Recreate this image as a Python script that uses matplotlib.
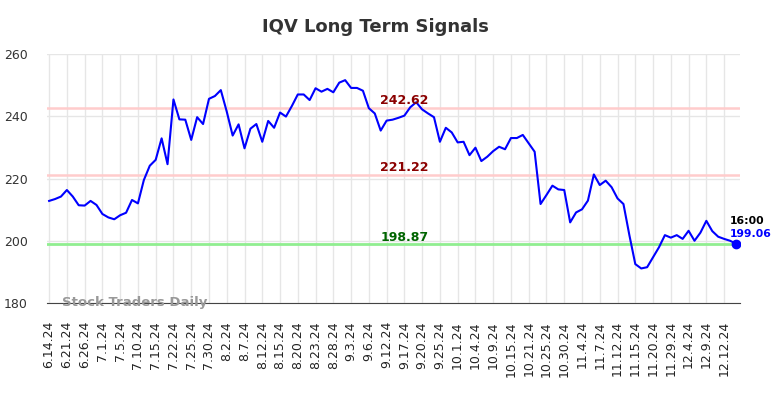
import matplotlib
matplotlib.use("Agg")
import matplotlib.pyplot as plt
import numpy as np

# closing prices, one per session shown on the chart
prices = [212.8, 213.4, 214.2, 216.3, 214.2, 211.4, 211.3, 212.8, 211.5, 208.6,
          207.5, 206.9, 208.2, 209.0, 213.1, 212.0, 219.5, 224.1, 226.0, 232.9,
          224.6, 245.4, 239.0, 238.9, 232.4, 239.7, 237.5, 245.6, 246.5, 248.4,
          241.5, 233.8, 237.4, 229.7, 236.0, 237.5, 231.8, 238.5, 236.3, 241.2,
          239.9, 243.3, 247.0, 247.0, 245.2, 249.0, 247.9, 248.8, 247.7, 250.8,
          251.6, 249.1, 249.1, 248.2, 242.6, 240.9, 235.4, 238.6, 238.9, 239.5,
          240.2, 242.9, 244.5, 242.2, 240.9, 239.7, 231.8, 236.3, 234.8, 231.6,
          231.8, 227.5, 229.9, 225.6, 227.0, 228.8, 230.2, 229.4, 233.0, 233.0,
          234.0, 231.3, 228.6, 211.8, 214.7, 217.7, 216.5, 216.3, 205.9, 209.1,
          210.1, 212.9, 221.3, 217.9, 219.3, 217.2, 213.6, 211.8, 201.8, 192.5,
          191.1, 191.5, 194.7, 197.9, 201.8, 201.0, 201.8, 200.6, 203.2, 200.0,
          202.6, 206.4, 203.1, 201.3, 200.6, 200.0, 199.06]

tick_labels = ['6.14.24', '6.21.24', '6.26.24', '7.1.24', '7.5.24', '7.10.24',
               '7.15.24', '7.22.24', '7.25.24', '7.30.24', '8.2.24', '8.7.24',
               '8.12.24', '8.15.24', '8.20.24', '8.23.24', '8.28.24', '9.3.24',
               '9.6.24', '9.12.24', '9.17.24', '9.20.24', '9.25.24', '10.1.24',
               '10.4.24', '10.9.24', '10.15.24', '10.21.24', '10.25.24', '10.30.24',
               '11.4.24', '11.7.24', '11.12.24', '11.15.24', '11.20.24', '11.29.24',
               '12.4.24', '12.9.24', '12.12.24']

resistance = [242.62, 221.22]
support = 198.87
last_time = '16:00'

x = np.arange(len(prices))

fig = plt.figure(figsize=(7.84, 3.98), dpi=100)
ax = fig.add_axes([0.06, 0.2387, 0.884, 0.6256])

# signal levels
for lvl in resistance:
    ax.axhline(lvl, color='#ffcccc', lw=1.8, zorder=2)
    ax.text(60, lvl + 1.2, '%.2f' % lvl, color='#8b0000', fontsize=9,
            fontweight='bold', ha='center', va='baseline', zorder=4)
ax.axhline(support, color='#90ee90', lw=2, zorder=2)
ax.text(60, support + 1.2, '%.2f' % support, color='#006400', fontsize=9,
        fontweight='bold', ha='center', va='baseline', zorder=4)

ax.plot(x, prices, color='#0000ff', lw=1.5, zorder=3)
ax.plot(x[-1], prices[-1], 'o', color='#0000ff', markersize=6, zorder=5)

# last price annotation
ax.text(x[-1] - 1.0, prices[-1] + 6.2, last_time, color='black', fontsize=7.8,
        fontweight='bold', ha='left', va='baseline', clip_on=False)
ax.text(x[-1] - 1.0, prices[-1] + 2.2, '%.2f' % prices[-1], color='#0000ff',
        fontsize=7.8, fontweight='bold', ha='left', va='baseline', clip_on=False)

ax.set_xlim(-0.35, 116.7)
ax.set_ylim(180, 260)
ax.set_xticks(x[::3][:len(tick_labels)])
ax.set_xticklabels(tick_labels, rotation=90, fontsize=9, color='#222222')
ax.set_yticks([180, 200, 220, 240, 260])
ax.tick_params(axis='y', length=0, pad=14, labelsize=9, labelcolor='#333333')
ax.tick_params(axis='x', length=0, pad=13)

ax.grid(True, color='#e6e6e6', lw=1, zorder=0)
ax.set_axisbelow(True)
for s in ['top', 'right', 'left']:
    ax.spines[s].set_visible(False)
ax.spines['bottom'].set_color('#444444')

ax.text(0.022, 0.0, 'Stock Traders Daily', transform=ax.transAxes,
        fontsize=9.5, fontweight='bold', color='#999999', ha='left',
        va='center', zorder=6)

fig.text(375 / 784, 1 - 32 / 398, 'IQV Long Term Signals', fontsize=13,
         fontweight='bold', color='#333333', ha='center', va='baseline')

fig.savefig('out.png', dpi=100)
